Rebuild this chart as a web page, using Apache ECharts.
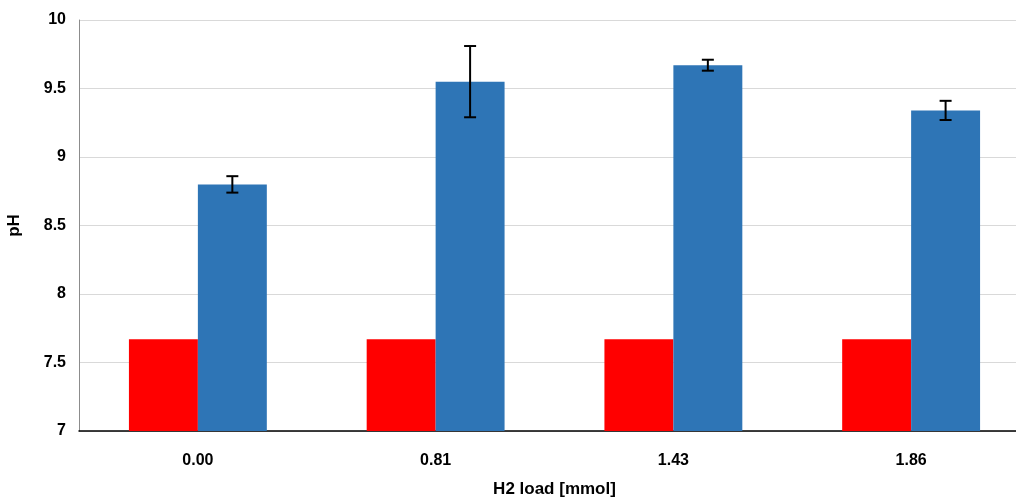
<!DOCTYPE html>
<html><head><meta charset="utf-8">
<script src="https://cdn.jsdelivr.net/npm/echarts@6/dist/echarts.min.js"></script>
<style>html,body{margin:0;padding:0;background:#fff}#c{width:1016px;height:497px}</style>
</head><body><div id="c"></div>
<script>
const categories = ['0.00', '0.81', '1.43', '1.86'];
const initialPH = [7.67, 7.67, 7.67, 7.67];
const finalPH = [8.80, 9.55, 9.67, 9.34];
const finalErr = [0.06, 0.26, 0.04, 0.07];

const chart = echarts.init(document.getElementById('c'));
const catGap = 0.42;
const font = 'Liberation Sans';
chart.setOption({
  animation: false,
  grid: {left: 79, top: 20, right: -14, bottom: 66, containLabel: false, outerBoundsMode: 'none'},
  xAxis: {
    type: 'category', data: categories,
    name: 'H2 load [mmol]', nameLocation: 'middle', nameGap: 50,
    nameTextStyle: {fontFamily: font, fontWeight: 'bold', fontSize: 17, color: '#000'},
    axisLine: {lineStyle: {color: '#000', width: 1.5}},
    axisTick: {show: false},
    axisLabel: {fontFamily: font, fontWeight: 'bold', fontSize: 16, color: '#000', margin: 22}
  },
  yAxis: {
    type: 'value', min: 7, max: 10, interval: 0.5,
    name: 'pH', nameLocation: 'middle', nameGap: 56,
    nameTextStyle: {fontFamily: font, fontWeight: 'bold', fontSize: 17, color: '#000'},
    axisLine: {show: true, lineStyle: {color: '#8c8c8c'}},
    axisTick: {show: false},
    splitLine: {lineStyle: {color: '#d9d9d9', width: 1}},
    axisLabel: {fontFamily: font, fontWeight: 'bold', fontSize: 16, color: '#000', margin: 13}
  },
  series: [
    {type: 'bar', data: initialPH, itemStyle: {color: '#ff0000'}, barGap: '0%', barCategoryGap: (catGap*100)+'%'},
    {type: 'bar', data: finalPH, itemStyle: {color: '#2e75b6'}},
    {
      type: 'custom', z: 10,
      data: finalPH.map((v, i) => [i, v - finalErr[i], v + finalErr[i]]),
      renderItem: function (params, api) {
        const band = api.size([1, 0])[0];
        const bw = band * (1 - catGap) / 2;
        const lo = api.coord([api.value(0), api.value(1)]);
        const hi = api.coord([api.value(0), api.value(2)]);
        const x = lo[0] + bw / 2;
        const cap = 6;
        const st = {stroke: '#000', lineWidth: 2};
        return {type: 'group', children: [
          {type: 'line', shape: {x1: x, y1: lo[1], x2: x, y2: hi[1]}, style: st},
          {type: 'line', shape: {x1: x - cap, y1: lo[1], x2: x + cap, y2: lo[1]}, style: st},
          {type: 'line', shape: {x1: x - cap, y1: hi[1], x2: x + cap, y2: hi[1]}, style: st}
        ]};
      }
    }
  ]
});
</script></body></html>
